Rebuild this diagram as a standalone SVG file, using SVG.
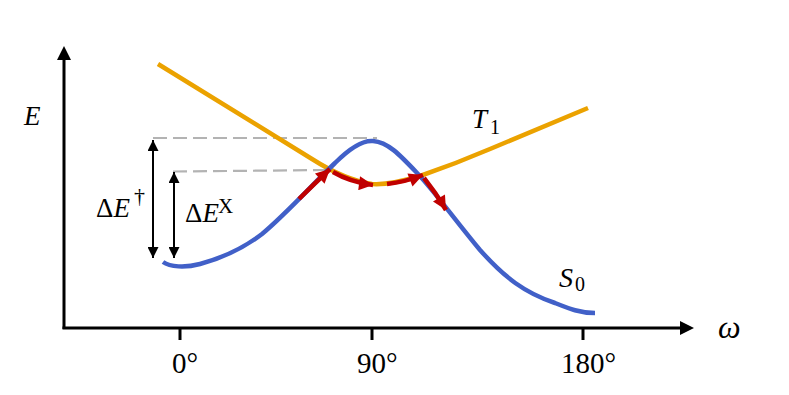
<svg xmlns="http://www.w3.org/2000/svg" width="789" height="395" viewBox="0 0 789 395">
<style>
.ax{stroke:#000;stroke-width:3;fill:none}
.dash{stroke:#b3b3b3;stroke-width:2.2;stroke-dasharray:14 6;fill:none}
.dbl{stroke:#000;stroke-width:2;fill:none;marker-start:url(#ka);marker-end:url(#ka)}
.t1{stroke:#EBA200;stroke-width:4.5;fill:none;stroke-linecap:butt}
.s0{stroke:#4160C8;stroke-width:4.5;fill:none}
.red{stroke:#C00000;stroke-width:4.5;fill:none;marker-end:url(#ra)}
text{font-family:"Liberation Serif","DejaVu Serif",serif;fill:#000}
.it{font-style:italic}
</style>
<defs>
<marker id="ka" viewBox="0 0 10 10" refX="10" refY="5" markerWidth="11" markerHeight="11" markerUnits="userSpaceOnUse" orient="auto-start-reverse"><path d="M0,0 L10,5 L0,10 z" fill="#000"/></marker>
<marker id="ra" viewBox="0 0 12 12" refX="12" refY="6" markerWidth="15" markerHeight="14" markerUnits="userSpaceOnUse" orient="auto"><path d="M0,0 L12,6 L0,12 z" fill="#C00000"/></marker>
</defs>
<g id="axes">
<line class="ax" x1="64" y1="329" x2="64" y2="58"/>
<polygon points="64,46 57,60 71,60" fill="#000"/>
<line class="ax" x1="62.5" y1="328" x2="681" y2="328"/>
<polygon points="694,328 680,321 680,335" fill="#000"/>
<line class="ax" x1="180" y1="329" x2="180" y2="340"/>
<line class="ax" x1="372" y1="329" x2="372" y2="340"/>
<line class="ax" x1="583" y1="329" x2="583" y2="340"/>
<text x="172" y="373" font-size="29">0°</text>
<text x="357" y="373" font-size="29">90°</text>
<text x="561" y="373" font-size="29">180°</text>
<text class="it" x="24" y="125" font-size="27">E</text>
<text class="it" x="718" y="338" font-size="32">ω</text>
</g>
<g id="connectors">
<line class="dash" x1="153" y1="138" x2="377" y2="138"/>
<line class="dash" x1="173" y1="171.5" x2="328" y2="170"/>
<line class="dbl" x1="153" y1="140" x2="153" y2="258"/>
<line class="dbl" x1="174" y1="172" x2="174" y2="258"/>
</g>
<g id="T1">
<path class="t1" d="M158,64 L312,159 Q345,180 372,184 C385,185 400,182 420,176 Q455,164 490,149 L588,108"/>
<text class="it" x="472" y="128" font-size="27">T</text>
<text x="490" y="134" font-size="20">1</text>
</g>
<g id="S0">
<path class="s0" d="M163,262 C170,267 185,268 200,264 C222,258 245,247 262,234 C285,215 312,185 335,163 C350,148 362,140 373,141 C388,142 400,155 418,174 C435,192 455,220 480,250 C505,278 525,293 555,303 C570,309 580,313 595,313"/>
<text class="it" x="559" y="287" font-size="28">S</text>
<text x="575" y="291" font-size="20">0</text>
</g>
<g id="path">
<path class="red" d="M299,199 Q314,184 330,169"/>
<path class="red" d="M333,172 Q350,182 373,185"/>
<path class="red" d="M387,184 Q405,182 423,175"/>
<path class="red" d="M424,178 Q436,193 446,210"/>
</g>
<g id="labels">
<text x="96" y="217" font-size="27">Δ<tspan class="it">E</tspan></text>
<text x="134" y="203" font-size="22">†</text>
<text x="185" y="222" font-size="27">Δ<tspan class="it">E</tspan></text>
<text x="218" y="213" font-size="21">X</text>
</g>
</svg>
